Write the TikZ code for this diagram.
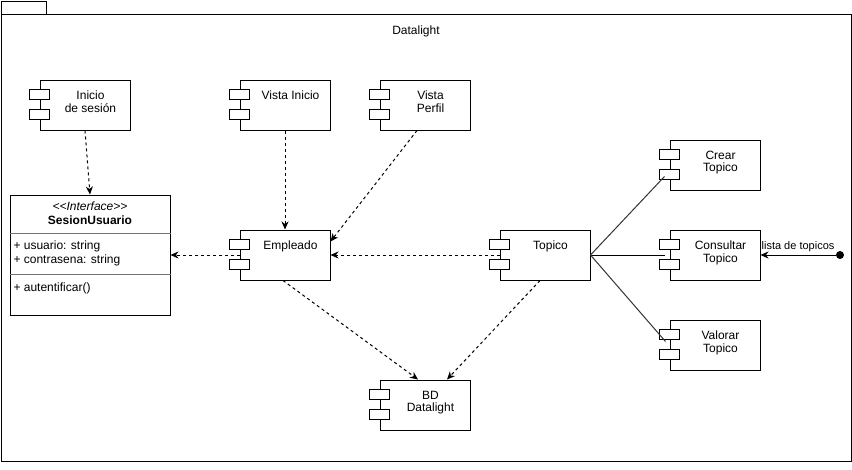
\documentclass[tikz,border=0pt]{standalone}
\usepackage{fontspec}
\setmainfont{Liberation Sans}
\usetikzlibrary{arrows.meta,calc}
\begin{document}
\begin{tikzpicture}[x=1pt,y=-1pt, line width=1pt,
  comp/.style={draw, minimum width=90pt, minimum height=50pt, inner sep=0pt, fill=white},
  ctext/.style={anchor=north, align=center, font=\fontsize{12}{12.5}\selectfont, inner sep=0pt},
  dep/.style={dash pattern=on 3pt off 3pt, -{Stealth[length=8pt,width=7pt,inset=2.5pt]}},
  plain/.style={font=\fontsize{12}{13}\selectfont, inner sep=0pt},
  sep/.style={draw=black!55, line width=0.8pt},
  ]
\useasboundingbox (0,0) rectangle (852,469);
% frame
\draw (1,1) rectangle (46,14);
\draw (1,14) rectangle (851,461);
\node[plain] (title) at (416,31) {Datalight};

% components
\node[comp] (ini) at (85,105) {};
\node[comp] (vi) at (285,105) {};
\node[comp] (vp) at (425,105) {};
\node[comp] (emp) at (285,255) {};
\node[comp] (top) at (545,255) {};
\node[comp] (bd) at (425,405) {};
\node[comp] (crear) at (715,165) {};
\node[comp] (cons) at (715,255) {};
\node[comp] (val) at (715,345) {};
\foreach \n in {ini,vi,vp,emp,top,bd,crear,cons,val}{
  \draw[fill=white] ([xshift=-10pt,yshift=-10pt]\n.north west) rectangle ++(20,10);
  \draw[fill=white] ([xshift=-10pt,yshift=-30pt]\n.north west) rectangle ++(20,10);
}
\node[ctext] (tini) at ([xshift=5.5pt,yshift=-11pt]ini.north) {Inicio\\de sesión};
\node[ctext] (tvi) at ([xshift=5.5pt,yshift=-11pt]vi.north) {Vista Inicio};
\node[ctext] (tvp) at ([xshift=5.5pt,yshift=-11pt]vp.north) {Vista\\Perfil};
\node[ctext] (temp) at ([xshift=5.5pt,yshift=-11pt]emp.north) {Empleado};
\node[ctext] (ttop) at ([xshift=5.5pt,yshift=-11pt]top.north) {Topico};
\node[ctext] (tbd) at ([xshift=5.5pt,yshift=-11pt]bd.north) {BD\\Datalight};
\node[ctext] (tcrear) at ([xshift=5.5pt,yshift=-11pt]crear.north) {Crear\\Topico};
\node[ctext] (tcons) at ([xshift=5.5pt,yshift=-11pt]cons.north) {Consultar\\Topico};
\node[ctext] (tval) at ([xshift=5.5pt,yshift=-11pt]val.north) {Valorar\\Topico};

% interface class
\node[draw, minimum width=160pt, minimum height=120pt, inner sep=0pt] (ses) at (90,255) {};
\draw[sep] (ses.west |- 0,233) -- (ses.east |- 0,233);
\draw[sep] (ses.west |- 0,274) -- (ses.east |- 0,274);
\node[plain, font=\itshape\fontsize{12}{13}\selectfont] (stereo) at (90,206) {{<}{<}Interface{>}{>}};
\node[plain, font=\bfseries\fontsize{12}{13}\selectfont] (sname) at (90,220.5) {SesionUsuario};
\node[plain, anchor=west] (a1) at (13,246.5) {+ usuario: string};
\node[plain, anchor=west] (a2) at (13,260.5) {+ contrasena: string};
\node[plain, anchor=west] (m1) at (13,288.5) {+ autentificar()};

% dependencies
\draw[dep] (ini.south) -- (ses.north);
\draw[dep] (vi.south) -- (emp.north);
\draw[dep] ([xshift=-8pt]vp.south) -- ([yshift=-12pt]emp.north east);
\draw[dep] (emp.west) -- (ses.east);
\draw[dep] (top.west) -- (emp.east);
\draw[dep] ([xshift=-2pt]emp.south) -- ([xshift=-7pt]bd.north);
\draw[dep] ([xshift=-5pt]top.south) -- ([xshift=22pt]bd.north);

% solid links
\draw[black!80] (top.east) -- ([xshift=-5pt,yshift=-37pt]crear.north west);
\draw (top.east) -- ([xshift=-5pt]cons.west);
\draw[black!80] (top.east) -- ([xshift=-4pt,yshift=-22pt]val.north west);

% lista de topicos
\node[circle, fill, inner sep=0pt, minimum size=8pt] (dot) at (840,255) {};
\draw[-{Stealth[length=8pt,width=7pt,inset=2.5pt]}] (dot) -- (cons.east)
  node[midway, yshift=8.5pt, font=\fontsize{11}{12}\selectfont, inner sep=0pt] (lbl) {lista de topicos};
\end{tikzpicture}
\end{document}
